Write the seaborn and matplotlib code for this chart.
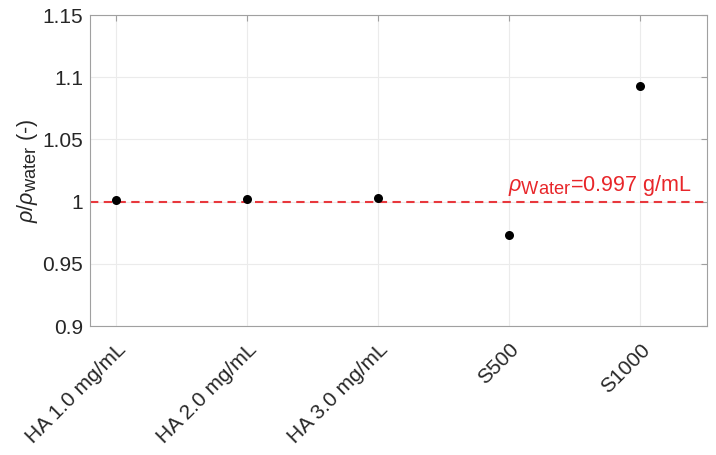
import numpy as np
import pandas as pd
import matplotlib
matplotlib.use("Agg")
import matplotlib.pyplot as plt
import matplotlib.transforms as mtransforms
import matplotlib._mathtext as mathtext_mod
import seaborn as sns

# values
samples = ["HA 1.0 mg/mL", "HA 2.0 mg/mL", "HA 3.0 mg/mL", "S500", "S1000"]
rel_density = [1.001, 1.002, 1.003, 0.973, 1.093]
rho_water = 0.997
y_ticks = [0.9, 0.95, 1.0, 1.05, 1.1, 1.15]
y_tick_labels = ["0.9", "0.95", "1", "1.05", "1.1", "1.15"]


def PlotDensity():
    sns.set_style("white")
    plt.rcParams["font.family"] = ["Liberation Sans", "DejaVu Sans"]
    plt.rcParams["mathtext.fontset"] = "custom"
    plt.rcParams["mathtext.rm"] = "Liberation Sans"
    plt.rcParams["mathtext.it"] = "Liberation Sans:italic"
    # subscripts in the reference are barely shrunk
    mathtext_mod.SHRINK_FACTOR = 0.85

    df = pd.DataFrame({"sample": samples, "ratio": rel_density})

    fig = plt.figure(figsize=(7.16, 4.55), dpi=100)
    ax = fig.add_axes([0.1257, 0.2835, 0.8617, 0.6835])

    ax.axhline(1.0, color="#e8383d", ls="--", lw=1.5, dashes=(4, 2.6), zorder=2)
    sns.stripplot(data=df, x="sample", y="ratio", jitter=False, color="black",
                  size=6.5, ax=ax, zorder=3)

    ax.text(3 - 0.01, 1.003, r"$\rho_{\mathrm{Water}}$=0.997 g/mL".replace("0.997", f"{rho_water:.3f}"),
            color="#e8262a", fontsize=15.5, ha="left", va="bottom")

    ax.set_xlim(-0.2, 4.51)
    ax.set_ylim(0.9, 1.15)
    ax.set_yticks(y_ticks)
    ax.set_yticklabels(y_tick_labels)
    ax.set_xticks(range(len(samples)))
    ax.set_xticklabels(samples, rotation=45, ha="right", va="top", rotation_mode="anchor")

    shift = mtransforms.ScaledTranslation(0.13, 0, fig.dpi_scale_trans)
    for lab in ax.get_xticklabels():
        lab.set_transform(lab.get_transform() + shift)

    ax.set_xlabel("")
    ax.set_ylabel(r"$\rho/\rho_{\mathrm{water}}$ (-)", fontsize=15.5, color="#262626", labelpad=2)

    ax.grid(True, color="#ebebeb", lw=0.8)
    ax.set_axisbelow(True)
    for side in ["top", "bottom", "left", "right"]:
        ax.spines[side].set_visible(True)
        ax.spines[side].set_color("#a0a0a0")
        ax.spines[side].set_linewidth(0.8)
    ax.tick_params(axis="both", direction="in", length=4, width=0.8, color="#a0a0a0",
                   labelsize=15, labelcolor="#262626", top=True, right=True)
    ax.tick_params(axis="y", pad=5)
    ax.tick_params(axis="x", pad=10)

    fig.savefig("out.png", dpi=100)


def main():
    PlotDensity()


if __name__ == "__main__":
    main()
